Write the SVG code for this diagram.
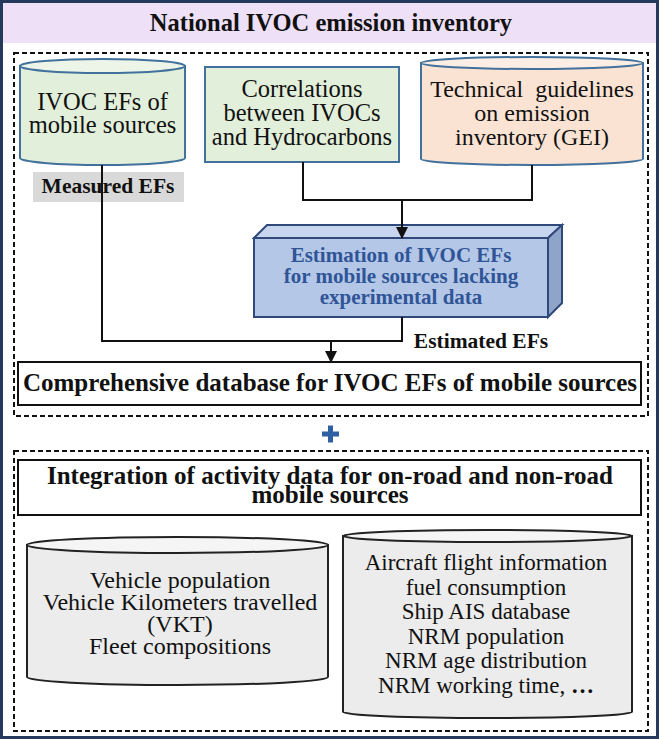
<svg xmlns="http://www.w3.org/2000/svg" width="659" height="739" viewBox="0 0 659 739">
<style>
text{font-family:"Liberation Serif","Times New Roman",serif;fill:#111;text-anchor:middle}
.b{font-weight:bold}
.dash{fill:none;stroke:#111;stroke-width:2;stroke-dasharray:5 3}
.cg{fill:#e2efda;stroke:#41719c;stroke-width:2}
.cgt{fill:#edf5e8;stroke:#41719c;stroke-width:2}
.cp{fill:#fbe3d3;stroke:#41719c;stroke-width:2}
.cpt{fill:#fdeee5;stroke:#41719c;stroke-width:2}
.gy{fill:#ececec;stroke:#222;stroke-width:2}
.gyt{fill:#f5f5f5;stroke:#222;stroke-width:2}
.box{fill:#fff;stroke:#111;stroke-width:2}
.conn{fill:none;stroke:#111;stroke-width:2}
.blue{fill:#2f5597}
</style>
<defs>
<marker id="arr" markerUnits="userSpaceOnUse" markerWidth="12" markerHeight="12" refX="11" refY="6" orient="auto">
<path d="M0,0 L12,6 L0,12 z" fill="#111"/>
</marker>
</defs>
<rect x="0" y="0" width="659" height="739" fill="#fff"/>
<g id="title">
<rect x="3" y="3" width="653" height="40" fill="#ede0f7"/>
<text x="331" y="31" class="b" font-size="24.5">National IVOC emission inventory</text>
</g>
<rect x="1.5" y="1.5" width="656" height="736" fill="none" stroke="#25395c" stroke-width="3"/>
<rect class="dash" x="14" y="53" width="634" height="363"/>
<rect class="dash" x="14" y="451" width="634" height="280"/>

<g id="ivoc-efs">
<path class="cg" d="M20,66 V158 A82.5,7 0 0 0 185,158 V66 Z"/>
<ellipse class="cgt" cx="102.5" cy="66" rx="82.5" ry="7"/>
<text x="102.5" y="110" font-size="24.5">IVOC EFs of</text>
<text x="102.5" y="133" font-size="24.5">mobile sources</text>
</g>
<g id="measured-label">
<rect x="33" y="172" width="151" height="30" fill="#d9d9d9"/>
<text x="108" y="193" class="b" font-size="21.5">Measured EFs</text>
</g>
<g id="correlations">
<rect class="cg" x="205" y="67" width="194" height="95"/>
<text x="302" y="97" font-size="24.5">Correlations</text>
<text x="302" y="121" font-size="24.5">between IVOCs</text>
<text x="302" y="145" font-size="24.5">and Hydrocarbons</text>
</g>
<g id="gei">
<path class="cp" d="M421,63 V159 A111,6 0 0 0 643,159 V63 Z"/>
<ellipse class="cpt" cx="532" cy="63" rx="111" ry="6"/>
<text x="532" y="97" font-size="24">Technical&#160; guidelines</text>
<text x="532" y="121" font-size="24">on emission</text>
<text x="532" y="145" font-size="24">inventory (GEI)</text>
</g>
<g id="estimation">
<path d="M254,238 L267,225 L562,225 L548,238 Z" fill="#c8d5ee" stroke="#2f4a7a" stroke-width="2"/>
<path d="M548,238 L562,225 L562,303 L548,317 Z" fill="#8ea4c8" stroke="#2f4a7a" stroke-width="2"/>
<rect x="254" y="238" width="294" height="79" fill="#b4c7e7" stroke="#2f4a7a" stroke-width="2"/>
<text x="401" y="262" class="b blue" font-size="21">Estimation of IVOC EFs</text>
<text x="401" y="283" class="b blue" font-size="21">for mobile sources lacking</text>
<text x="401" y="304" class="b blue" font-size="21">experimental data</text>
</g>
<g id="estimated-label">
<text x="481" y="348" class="b" font-size="21.5">Estimated EFs</text>
</g>
<g id="database">
<rect class="box" x="18" y="362" width="623" height="43"/>
<text x="330" y="391" class="b" font-size="25">Comprehensive database for IVOC EFs of mobile sources</text>
</g>
<g id="plus">
<rect x="322" y="431.5" width="17" height="5" fill="#2e5fa3"/>
<rect x="328" y="425.5" width="5" height="17" fill="#2e5fa3"/>
</g>
<g id="integration">
<rect class="box" x="18" y="460" width="623" height="55"/>
<text x="330" y="484" class="b" font-size="25">Integration of activity data for on-road and non-road</text>
<text x="330" y="503" class="b" font-size="25">mobile sources</text>
</g>
<g id="onroad">
<path class="gy" d="M27,545 V677 A150.5,8 0 0 0 328,677 V545 Z"/>
<ellipse class="gyt" cx="177.5" cy="545" rx="150.5" ry="8"/>
<text x="180" y="588" font-size="24">Vehicle population</text>
<text x="180" y="610" font-size="24">Vehicle Kilometers travelled</text>
<text x="180" y="632" font-size="24">(VKT)</text>
<text x="180" y="654" font-size="24">Fleet compositions</text>
</g>
<g id="nonroad">
<path class="gy" d="M343,536 V712 A144.5,6 0 0 0 632,712 V536 Z"/>
<ellipse class="gyt" cx="487.5" cy="536" rx="144.5" ry="6"/>
<text x="486" y="570" font-size="23">Aircraft flight information</text>
<text x="486" y="595" font-size="23">fuel consumption</text>
<text x="486" y="619" font-size="23">Ship AIS database</text>
<text x="486" y="644" font-size="23">NRM population</text>
<text x="486" y="668" font-size="23">NRM age distribution</text>
<text x="486" y="693" font-size="23">NRM working time, <tspan class="b">…</tspan></text>
</g>
<g id="connectors">
<path class="conn" d="M303,162 V200 H532 V165"/>
<path class="conn" d="M402,200 V238" marker-end="url(#arr)"/>
<path class="conn" d="M102,165 V341 H402 V317"/>
<path class="conn" d="M331,341 V362" marker-end="url(#arr)"/>
</g>
</svg>
